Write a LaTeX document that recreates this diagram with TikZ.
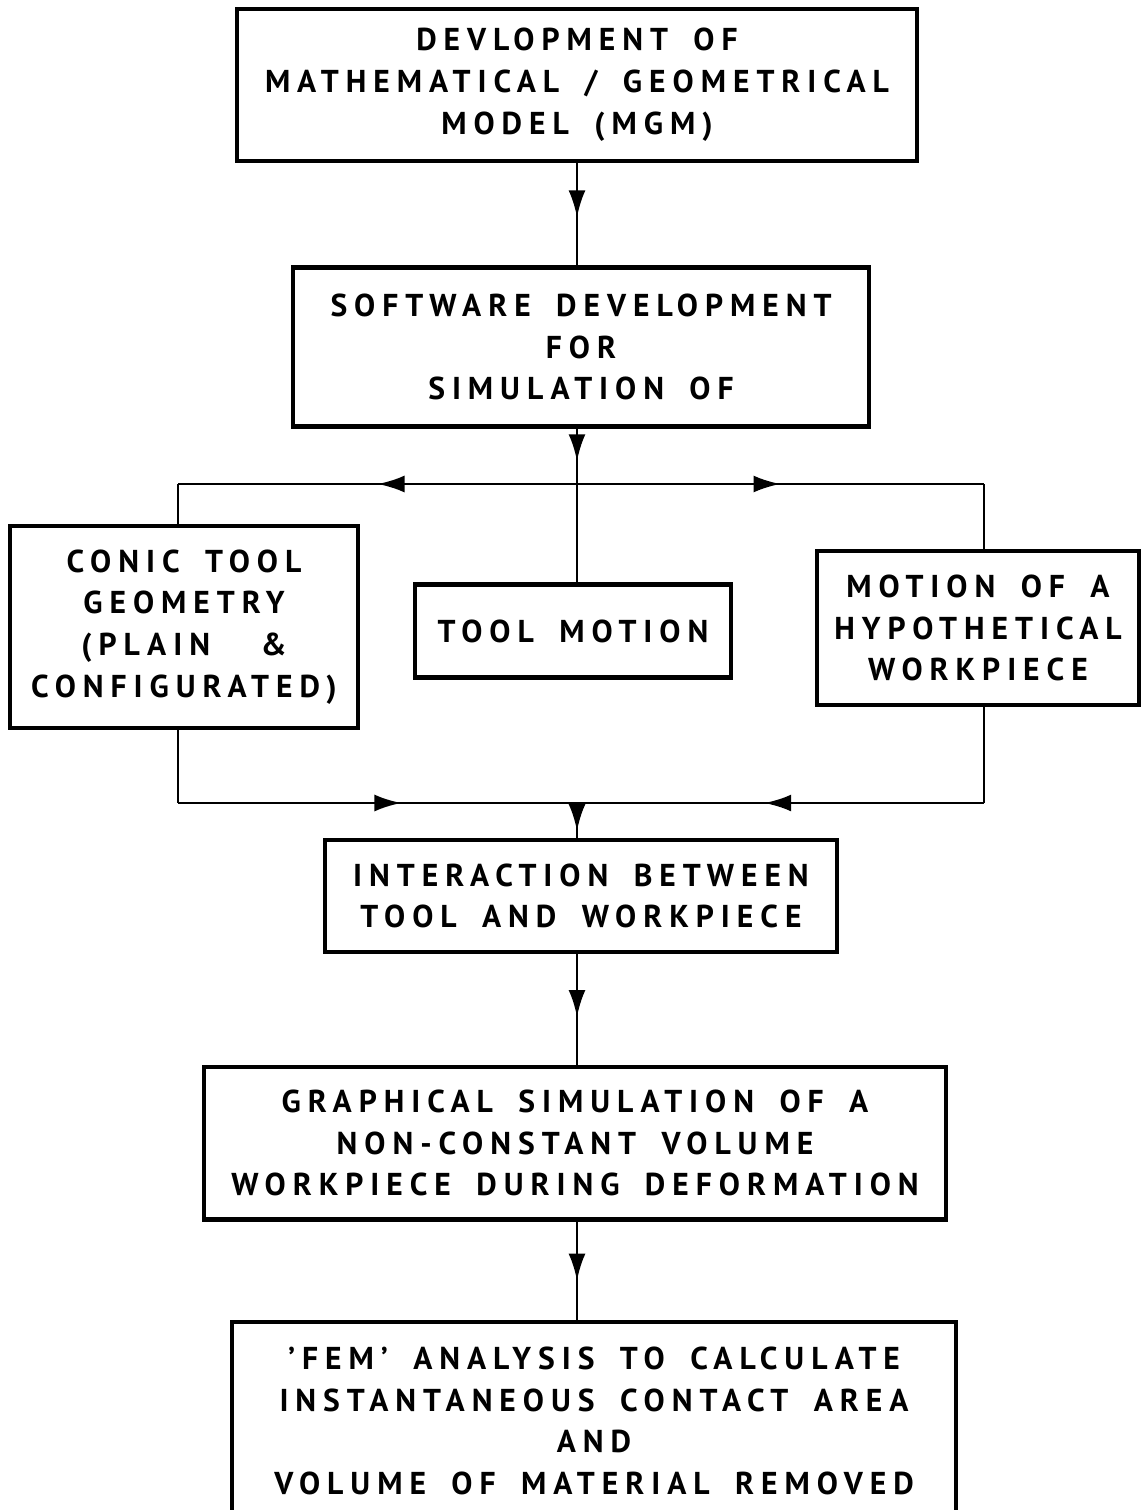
\documentclass[tikz,border=0pt]{standalone}
\usepackage{fontspec}
\setmainfont{PT Sans}[LetterSpace=22, WordSpace=1.7]
\usetikzlibrary{positioning, arrows.meta, decorations.markings}

\tikzset{
	block/.style={draw, line width=2.3pt, align=center, inner sep=0pt,
		font=\fontsize{18}{23.8}\selectfont\bfseries},
	link/.style={line width=1.6pt},
	flow/.style={link, postaction={decorate},
		decoration={markings, mark=at position #1 with {\arrow{Latex[length=0.54cm, width=0.34cm]}}}},
	flow/.default=0.5,
}

\begin{document}
\begin{tikzpicture}[x=0.02cm, y=-0.02cm]
	\clip (0,0) rectangle (1141,1510);

	\node[block, minimum width=13.6cm, minimum height=3.04cm] (mgm) at (577,85)
		{DEVLOPMENT OF\\MATHEMATICAL / GEOMETRICAL\\MODEL (MGM)};
	\node[block, minimum width=11.54cm, minimum height=3.18cm] (soft) at (581,347)
		{SOFTWARE DEVELOPMENT\\FOR\\SIMULATION OF};
	\node[block, minimum width=6.96cm, minimum height=4.04cm] (conic) at (184,627)
		{CONIC TOOL\\GEOMETRY\\(PLAIN \ \&\\CONFIGURATED)};
	\node[block, minimum width=6.32cm, minimum height=1.86cm] (tool) at (573,631)
		{TOOL MOTION};
	\node[block, minimum width=6.44cm, minimum height=3.08cm] (motion) at (978,628)
		{MOTION OF A\\HYPOTHETICAL\\WORKPIECE};
	\node[block, minimum width=10.26cm, minimum height=2.24cm] (inter) at (581,896)
		{INTERACTION BETWEEN\\TOOL AND WORKPIECE};
	\node[block, minimum width=14.84cm, minimum height=3.06cm] (graph) at (575,1143)
		{GRAPHICAL SIMULATION OF A\\NON-CONSTANT VOLUME\\WORKPIECE DURING DEFORMATION};
	\node[block, minimum width=14.48cm, minimum height=3.96cm] (fem) at (594,1421)
		{'FEM' ANALYSIS TO CALCULATE\\INSTANTANEOUS CONTACT AREA\\AND\\VOLUME OF MATERIAL REMOVED};

	% branch and merge points
	\coordinate (split)  at (577,484);
	\coordinate (splitL) at (178,484);
	\coordinate (splitR) at (984,484);
	\coordinate (join)   at (577,803);
	\coordinate (joinL)  at (178,803);
	\coordinate (joinR)  at (984,803);

	\draw[flow=0.53] (mgm.south) -- (mgm.south |- soft.north);
	\draw[flow=0.59] (soft.south -| split) -- (split);
	\draw[link] (split) -- (split |- tool.north);
	\draw[flow=0.5] (split) -- (splitL);
	\draw[link] (splitL) -- (splitL |- conic.north);
	\draw[flow=0.5] (split) -- (splitR);
	\draw[link] (splitR) -- (splitR |- motion.north);

	\draw[link] (joinL |- conic.south) -- (joinL);
	\draw[flow=0.56] (joinL) -- (join);
	\draw[link] (joinR |- motion.south) -- (joinR);
	\draw[flow=0.54] (joinR) -- (join);
	\draw[flow=0.8] (join) -- (join |- inter.north);

	\draw[flow=0.57] (inter.south -| join) -- (join |- graph.north);
	\draw[flow=0.6] (graph.south -| join) -- (join |- fem.north);
\end{tikzpicture}
\end{document}
